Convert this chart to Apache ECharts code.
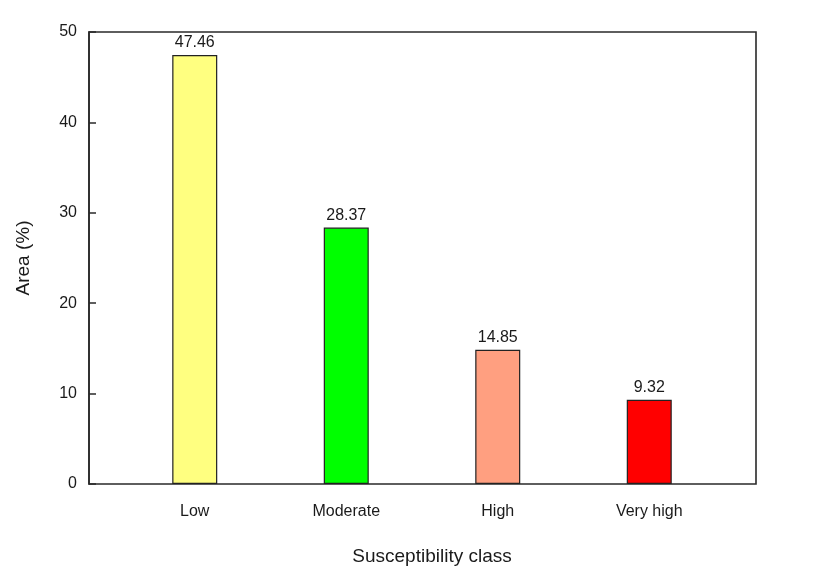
<!DOCTYPE html>
<html><head><meta charset="utf-8">
<script src="https://cdn.jsdelivr.net/npm/echarts@6/dist/echarts.min.js"></script>
<style>html,body{margin:0;padding:0;background:#fff}#c{width:819px;height:580px}</style>
</head><body><div id="c"></div>
<script>
const categories = ["Low", "Moderate", "High", "Very high"];
const values = [47.46, 28.37, 14.85, 9.32];
const barColors = ["#FFFF80", "#00FF00", "#FF9F80", "#FF0000"];
const yTicks = [0, 10, 20, 30, 40, 50];

const chart = echarts.init(document.getElementById('c'));
const font = "Liberation Sans, Arial, sans-serif";
chart.setOption({
  animation: false,
  grid: [
    {left: 89, right: 63, top: 32, bottom: 96, show: true, borderColor: '#2a2a2a', borderWidth: 1.6, backgroundColor: 'transparent'},
    {left: 119, right: 94, top: 32, bottom: 96}
  ],
  xAxis: [
    {gridIndex: 0, type: 'value', min: 0, max: 1, show: false},
    {gridIndex: 1, type: 'category', data: categories,
     axisLine: {show: false}, axisTick: {show: false},
     axisLabel: {fontFamily: font, fontSize: 16, color: '#1a1a1a', margin: 20},
     name: 'Susceptibility class', nameLocation: 'middle', nameGap: 63,
     nameTextStyle: {fontFamily: font, fontSize: 19, color: '#1a1a1a', padding: [0, 0, 0, 20]}}
  ],
  yAxis: [
    {gridIndex: 0, type: 'value', min: yTicks[0], max: yTicks[yTicks.length - 1], interval: 10,
     axisLine: {show: true, lineStyle: {color: '#2a2a2a', width: 1.6}},
     axisTick: {show: true, inside: true, length: 7, lineStyle: {color: '#2a2a2a', width: 1.5}},
     splitLine: {show: false},
     axisLabel: {fontFamily: font, fontSize: 16, color: '#1a1a1a', margin: 12},
     name: 'Area (%)', nameLocation: 'middle', nameGap: 56,
     nameTextStyle: {fontFamily: font, fontSize: 19, color: '#1a1a1a'}},
    {gridIndex: 1, type: 'value', min: 0, max: 50, show: false}
  ],
  series: [{
    type: 'bar', xAxisIndex: 1, yAxisIndex: 1, barWidth: 45,
    data: values.map((v, i) => ({value: v, itemStyle: {color: barColors[i]}})),
    itemStyle: {borderColor: '#222', borderWidth: 1.2},
    label: {show: true, position: 'top', distance: 4, fontFamily: font, fontSize: 16, color: '#1a1a1a',
            formatter: p => p.value.toFixed(2)}
  }]
});
</script></body></html>
